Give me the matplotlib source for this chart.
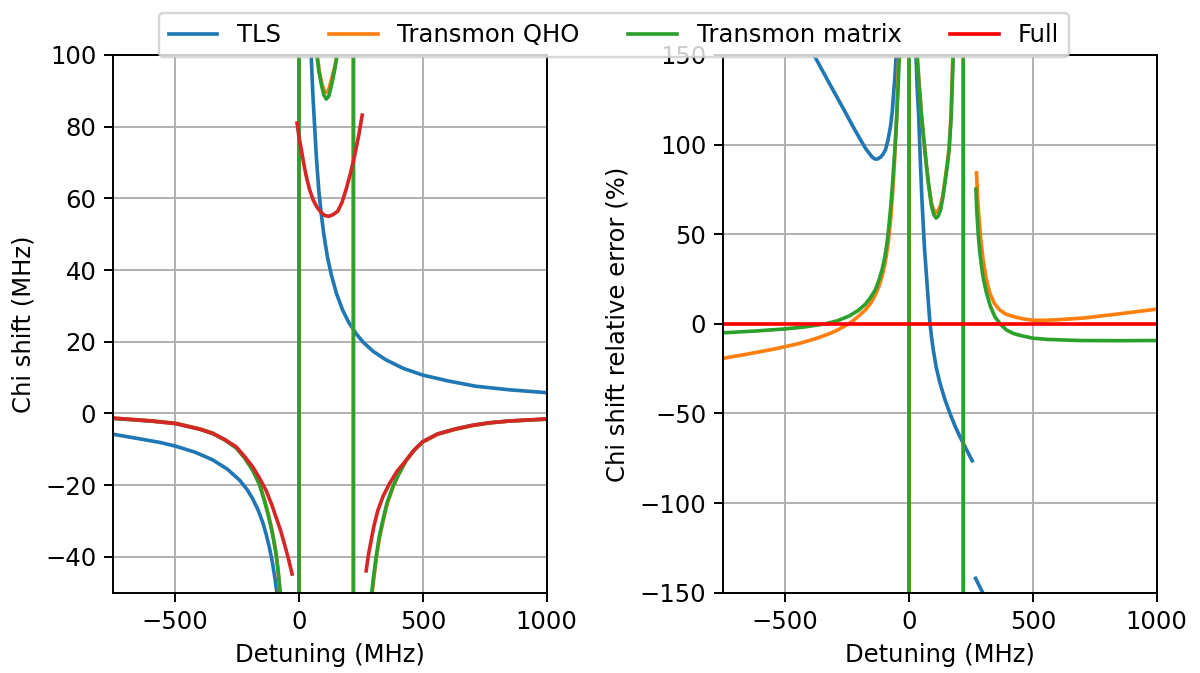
import numpy as np
import matplotlib
matplotlib.use('Agg')
import matplotlib.pyplot as plt

nan = np.nan

# ---- left panel: chi shift (MHz) vs detuning (MHz) ----
tls_x = [-750, -650, -560, -500, -420, -350, -290, -240, -210, -187, -165, -146, -132, -120, -108, -97, -88,
         -60, -30, -5, -1,
         1, 5, 30, 49, 55, 63, 70, 80, 90, 100, 115, 130, 150, 175, 200, 230, 260, 300, 350,
         420, 500, 600, 713, 850, 1000]
tls_chi = [-5.8, -7.0, -8.1, -9.1, -10.8, -12.9, -15.5, -18.6, -21.2, -23.8, -27.0, -30.5, -33.9, -37.3, -41.4, -46.1, -50.8,
           -75, -150, -900, -4000,
           4000, 900, 150, 100, 90, 80, 71.5, 62, 55.5, 50, 43.5, 38.8, 33.7, 29, 25.5, 22.3, 19.8, 17.3, 15,
           12.6, 10.7, 9.1, 7.6, 6.6, 5.8]

qho_x = [-750, -600, -500, -400, -348, -300, -254, -220, -187, -160, -140, -125, -113, -103, -93, -85, -77,
         -50, -25, -10, -0.5,
         0.5, 10, 30, 50, 73, 82, 92, 101, 110, 120, 133, 145, 153, 175, 200, 215, 218,
         219.5, 230, 260, 295, 302, 313, 325, 340, 357, 380, 400, 432, 465, 499, 560, 633, 700, 767, 850, 1000]
qho_chi = [-1.3, -2.0, -2.7, -4.3, -5.5, -7.3, -9.5, -12.2, -15.7, -19.5, -24.0, -27.8, -31.3, -34.8, -38.7, -43.5, -50.4,
           -85, -180, -450, -9000,
           9000, 440, 160, 115, 100, 95.5, 92, 90.2, 89.6, 90.3, 93.8, 97, 100, 125, 250, 900, 9000,
           -9000, -400, -110, -50.4, -46, -40, -34.7, -29.9, -25, -20.5, -17.3, -13.2, -10.2, -8.0, -5.8, -4.4, -3.4, -2.7, -2.1, -1.6]

mat_x = [-750, -600, -500, -400, -348, -300, -254, -220, -187, -160, -140, -125, -113, -103, -93, -84, -75,
         -50, -25, -10, -0.5,
         0.5, 10, 30, 50, 72, 80, 90, 100, 110, 120, 134, 145, 154, 175, 200, 215, 219.5,
         220.5, 230, 260, 293, 300, 311, 323, 338, 355, 378, 400, 432, 465, 499, 560, 633, 700, 767, 850, 1000]
mat_chi = [-1.4, -2.1, -2.8, -4.4, -5.6, -7.4, -9.6, -12.4, -15.9, -19.8, -24.3, -28.2, -31.7, -35.2, -39.2, -44.2, -50.4,
           -85, -180, -450, -9000,
           9000, 440, 160, 115, 100, 95.5, 91.8, 88.9, 87.7, 88.5, 92.5, 96.3, 100, 125, 250, 900, 9000,
           -9000, -400, -110, -50.4, -46, -40.1, -34.7, -29.9, -25, -20.5, -17.3, -13.1, -10.2, -7.9, -5.7, -4.3, -3.3, -2.6, -2.1, -1.6]

full_x = [-750, -600, -500, -400, -348, -300, -254, -220, -187, -160, -133, -110, -93, -75, -59, -43, -28, nan,
          -8, 0, 9, 19, 29, 42, 56, 72, 90, 105, 120, 138, 156, 173, 190, 207, 224, 240, 255, nan,
          271, 280, 291, 303, 318, 340, 365, 395, 432, 465, 499, 560, 633, 700, 767, 850, 1000]
full_chi = [-1.3, -2.1, -2.8, -4.4, -5.6, -7.3, -9.3, -12.0, -14.9, -18.0, -21.5, -25.5, -28.9, -32.5, -36.4, -40.5, -44.8, nan,
            81, 77, 73.7, 69.7, 66.2, 62.6, 59.7, 57.6, 56, 55.2, 55, 55.5, 56.4, 58.8, 62.5, 66.8, 71.8, 77.2, 83.2, nan,
            -43.9, -39.5, -35.5, -31.2, -27.1, -23, -19.6, -16.2, -13.1, -10.2, -7.9, -5.7, -4.3, -3.3, -2.6, -2.1, -1.5]

# ---- right panel: relative error (%) vs detuning (MHz) ----
tls_ex = [-450, -384, -323, -256, -220, -189, -175, -160, -150, -138, -128, -115, -105, -95, -85, -75, -68,
          -62, -57, -52, -45, nan,
          20, 28, 33, 39, 45, 52, 62, 72.5, 78.5, 84.5, 91, 97.8, 110, 125, 145, 165, 188, 212, 235, 255, nan,
          268.5, 299, 320]
tls_err = [175, 150, 134.5, 117.7, 108.5, 101, 97.8, 95, 93.2, 92, 91.9, 93, 94.6, 97.2, 102.5, 110, 118,
           129, 138, 150, 175, nan,
           200, 150, 131, 115.8, 93, 69.3, 43, 22.7, 11, 0.4, -7.5, -14.5, -24.5, -33.1, -42.3, -49.9, -57.8, -64.8, -71, -76.4, nan,
           -142, -150.4, -165]

qho_ex = [-750, -650, -550, -450, -378, -320, -285, -244, -220, -200, -176, -155, -136, -122, -109, -97, -86, -78,
          -71, -65, -59, -49.5, -41.5, -35, nan,
          -5, -0.5, 0.5, 10, 25, 33, 41, 51, 63, 70, 78, 85, 91, 100, 109, 118, 127, 136, 145, 153, 161, 169,
          177, 195, 212, 218,
          219.5, 230, 250, nan,
          272.5, 277, 282, 290, 299, 311, 326, 345, 366, 390, 420, 460, 500, 550, 600, 702, 850, 1000]
qho_err = [-19.2, -16.8, -14.2, -11.2, -8.3, -5.4, -3.2, 0.0, 2.4, 4.8, 7.8, 11.5, 16.2, 20.8, 26.4, 33.8, 43.2, 53,
           63.7, 76, 89.8, 115.8, 150, 180, nan,
           -1500, -50000, 50000, 1500, 250, 150, 134, 116, 97.2, 88, 79, 72.5, 67, 63.5, 62.2, 63.3, 66, 71.5, 80, 88.5, 97.2, 115,
           150, 300, 1500, 50000,
           -50000, -1500, -300, nan,
           84.2, 70, 60, 46.5, 35.8, 25.5, 17.2, 11.3, 7.8, 5.5, 4.1, 2.8, 2.0, 2.0, 2.3, 3.2, 5.6, 8.2]

mat_ex = [-752, -620, -498, -420, -338, -290, -243, -205, -176, -155, -136, -122, -109, -98, -89, -82, -75, -68,
          -62, -57, -52, -44, -39, -33, nan,
          -5, -0.5, 0.5, 10, 25, 32, 40, 50, 64, 71, 78, 85, 91, 100, 109, 118, 127.5, 136, 145, 154, 162, 170,
          178.5, 195, 212, 218.5,
          219.5, 230, 250, nan,
          270, 274, 279, 285, 292.6, 301, 312.7, 328, 346, 368, 393, 420, 450, 500, 560, 688, 850, 1000]
mat_err = [-5.0, -4.0, -2.8, -1.7, 0.0, 1.7, 4.3, 7.5, 11.0, 14.8, 19.0, 24.2, 30.2, 37, 45.0, 53.5, 63.7, 75.5,
           87.9, 98, 110, 132.6, 150, 185, nan,
           -1500, -50000, 50000, 1500, 250, 150, 134, 116, 97.2, 87.5, 78.6, 71.3, 65.5, 61, 59, 60.2, 63.7, 70, 78.6, 87.5, 97.2, 115,
           150, 300, 1500, 50000,
           -50000, -1500, -300, nan,
           75.2, 62, 50.7, 41, 32.0, 24.5, 17.2, 10, 4.1, 0.0, -3.4, -5.3, -6.5, -8.0, -8.7, -9.3, -9.4, -9.3]

full_ex = [-750, 1000]
full_err = [0, 0]

DPI = 175
fig = plt.figure(figsize=(1200 / DPI, 673 / DPI), dpi=DPI)
ax1 = fig.add_axes([113.3 / 1200, 1 - 592.7 / 673, 433.4 / 1200, 537.7 / 673])
ax2 = fig.add_axes([723.3 / 1200, 1 - 592.7 / 673, 433.4 / 1200, 537.7 / 673])

ax1.plot(tls_x, tls_chi, color='tab:blue', label='TLS')
ax1.plot(qho_x, qho_chi, color='tab:orange', label='Transmon QHO')
ax1.plot(mat_x, mat_chi, color='tab:green', label='Transmon matrix')
ax1.plot(full_x, full_chi, color='tab:red', label='Full')
ax1.set_xlim(-750, 1000)
ax1.set_ylim(-50, 100)
ax1.set_xlabel('Detuning (MHz)')
ax1.set_ylabel('Chi shift (MHz)')
ax1.grid(True)

l1, = ax2.plot(tls_ex, tls_err, color='tab:blue', label='TLS')
l2, = ax2.plot(qho_ex, qho_err, color='tab:orange', label='Transmon QHO')
l3, = ax2.plot(mat_ex, mat_err, color='tab:green', label='Transmon matrix')
l4, = ax2.plot(full_ex, full_err, color='red', label='Full')
ax2.set_xlim(-750, 1000)
ax2.set_ylim(-150, 150)
ax2.set_xlabel('Detuning (MHz)')
ax2.set_ylabel('Chi shift relative error (%)')
ax2.grid(True)

fig.legend(handles=[l1, l2, l3, l4], loc='upper center', ncol=4,
           bbox_to_anchor=(0.5117, 0.998))

fig.savefig('out.png', dpi=DPI)
